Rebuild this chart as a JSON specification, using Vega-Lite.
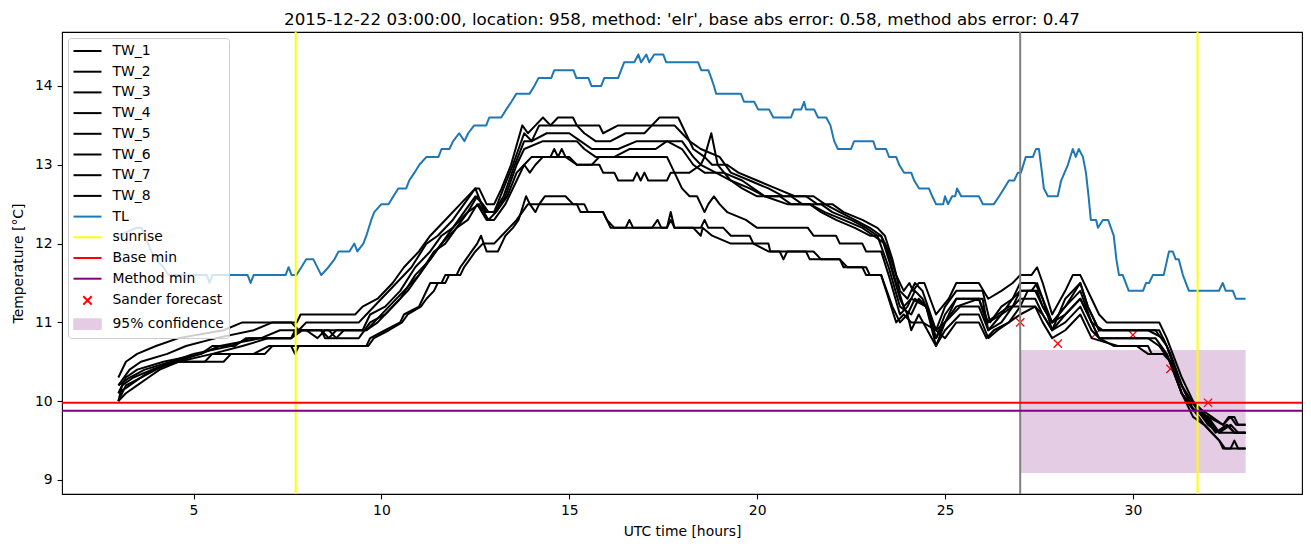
{
"$schema":"https://vega.github.io/schema/vega-lite/v6.json",
"width":1240,"height":462,
"autosize":{"type":"none"},
"padding":{"left":62,"top":32,"right":9,"bottom":53},
"background":"white",
"title":{"text":"2015-12-22 03:00:00, location: 958, method: 'elr', base abs error: 0.58, method abs error: 0.47","font":"DejaVu Sans","fontSize":16.7,"fontWeight":"normal","color":"black","anchor":"middle","frame":"group","baseline":"alphabetic","offset":8,"dy":19},
"config":{
 "view":{"stroke":"black","strokeWidth":1.1},
 "axis":{"labelFont":"DejaVu Sans","labelFontSize":13.9,"titleFont":"DejaVu Sans","titleFontSize":13.9,"titleFontWeight":"normal","labelColor":"black","titleColor":"black","tickColor":"black","tickSize":4.9,"tickWidth":1.1,"labelPadding":4.9,"domain":false,"grid":false}
},
"datasets":{
"lines":[
{"series":"TW_1","t":3.0,"v":10.3},{"series":"TW_1","t":3.2,"v":10.5},{"series":"TW_1","t":3.5,"v":10.6},{"series":"TW_1","t":4.0,"v":10.7},{"series":"TW_1","t":4.6,"v":10.8},{"series":"TW_1","t":5.8,"v":10.9},{"series":"TW_1","t":6.3,"v":11.0},{"series":"TW_1","t":7.75,"v":11.0},{"series":"TW_1","t":7.85,"v":11.1},{"series":"TW_1","t":9.3,"v":11.1},{"series":"TW_1","t":9.5,"v":11.2},{"series":"TW_1","t":9.9,"v":11.3},{"series":"TW_1","t":10.3,"v":11.5},{"series":"TW_1","t":10.6,"v":11.7},{"series":"TW_1","t":11.0,"v":11.9},{"series":"TW_1","t":11.3,"v":12.1},{"series":"TW_1","t":11.7,"v":12.3},{"series":"TW_1","t":12.1,"v":12.5},{"series":"TW_1","t":12.5,"v":12.7},{"series":"TW_1","t":12.6,"v":12.7},{"series":"TW_1","t":12.8,"v":12.5},{"series":"TW_1","t":13.0,"v":12.5},{"series":"TW_1","t":13.2,"v":12.7},{"series":"TW_1","t":13.45,"v":13.0},{"series":"TW_1","t":13.75,"v":13.5},{"series":"TW_1","t":13.9,"v":13.4},{"series":"TW_1","t":14.1,"v":13.5},{"series":"TW_1","t":14.3,"v":13.6},{"series":"TW_1","t":14.5,"v":13.5},{"series":"TW_1","t":14.7,"v":13.6},{"series":"TW_1","t":15.1,"v":13.6},{"series":"TW_1","t":15.2,"v":13.5},{"series":"TW_1","t":15.8,"v":13.5},{"series":"TW_1","t":15.9,"v":13.4},{"series":"TW_1","t":16.3,"v":13.5},{"series":"TW_1","t":17.2,"v":13.5},{"series":"TW_1","t":17.4,"v":13.6},{"series":"TW_1","t":17.9,"v":13.6},{"series":"TW_1","t":18.1,"v":13.4},{"series":"TW_1","t":18.3,"v":13.2},{"series":"TW_1","t":18.6,"v":13.1},{"series":"TW_1","t":18.8,"v":13.0},{"series":"TW_1","t":19.2,"v":13.0},{"series":"TW_1","t":19.5,"v":12.9},{"series":"TW_1","t":20.0,"v":12.8},{"series":"TW_1","t":20.5,"v":12.7},{"series":"TW_1","t":21.0,"v":12.6},{"series":"TW_1","t":21.5,"v":12.6},{"series":"TW_1","t":21.8,"v":12.5},{"series":"TW_1","t":22.2,"v":12.4},{"series":"TW_1","t":22.6,"v":12.3},{"series":"TW_1","t":23.0,"v":12.2},{"series":"TW_1","t":23.3,"v":12.1},{"series":"TW_1","t":23.5,"v":11.9},{"series":"TW_1","t":23.7,"v":11.6},{"series":"TW_1","t":23.9,"v":11.4},{"series":"TW_1","t":24.05,"v":11.5},{"series":"TW_1","t":24.15,"v":11.4},{"series":"TW_1","t":24.3,"v":11.5},{"series":"TW_1","t":24.45,"v":11.5},{"series":"TW_1","t":24.76,"v":11.1},{"series":"TW_1","t":25.1,"v":11.3},{"series":"TW_1","t":25.3,"v":11.5},{"series":"TW_1","t":25.9,"v":11.5},{"series":"TW_1","t":26.15,"v":11.3},{"series":"TW_1","t":26.5,"v":11.4},{"series":"TW_1","t":26.8,"v":11.5},{"series":"TW_1","t":27.0,"v":11.6},{"series":"TW_1","t":27.3,"v":11.6},{"series":"TW_1","t":27.45,"v":11.7},{"series":"TW_1","t":27.6,"v":11.5},{"series":"TW_1","t":27.85,"v":11.1},{"series":"TW_1","t":28.2,"v":11.4},{"series":"TW_1","t":28.4,"v":11.6},{"series":"TW_1","t":28.6,"v":11.6},{"series":"TW_1","t":28.9,"v":11.3},{"series":"TW_1","t":29.1,"v":11.1},{"series":"TW_1","t":29.3,"v":11.0},{"series":"TW_1","t":30.7,"v":11.0},{"series":"TW_1","t":30.9,"v":10.8},{"series":"TW_1","t":31.3,"v":10.3},{"series":"TW_1","t":31.6,"v":10.0},{"series":"TW_1","t":31.8,"v":9.9},{"series":"TW_1","t":32.1,"v":9.8},{"series":"TW_1","t":32.4,"v":9.7},{"series":"TW_1","t":32.55,"v":9.8},{"series":"TW_1","t":32.7,"v":9.8},{"series":"TW_1","t":32.8,"v":9.7},{"series":"TW_1","t":33.0,"v":9.7},
{"series":"TW_2","t":3.0,"v":10.2},{"series":"TW_2","t":3.3,"v":10.4},{"series":"TW_2","t":3.6,"v":10.5},{"series":"TW_2","t":4.3,"v":10.6},{"series":"TW_2","t":4.8,"v":10.7},{"series":"TW_2","t":5.6,"v":10.8},{"series":"TW_2","t":6.6,"v":10.9},{"series":"TW_2","t":7.1,"v":11.0},{"series":"TW_2","t":7.6,"v":11.0},{"series":"TW_2","t":7.8,"v":10.9},{"series":"TW_2","t":8.0,"v":11.0},{"series":"TW_2","t":9.4,"v":11.0},{"series":"TW_2","t":9.6,"v":11.1},{"series":"TW_2","t":10.0,"v":11.3},{"series":"TW_2","t":10.4,"v":11.5},{"series":"TW_2","t":10.8,"v":11.7},{"series":"TW_2","t":11.2,"v":12.0},{"series":"TW_2","t":11.5,"v":12.1},{"series":"TW_2","t":11.9,"v":12.3},{"series":"TW_2","t":12.2,"v":12.5},{"series":"TW_2","t":12.5,"v":12.7},{"series":"TW_2","t":12.75,"v":12.4},{"series":"TW_2","t":13.0,"v":12.4},{"series":"TW_2","t":13.25,"v":12.7},{"series":"TW_2","t":13.5,"v":13.0},{"series":"TW_2","t":13.8,"v":13.4},{"series":"TW_2","t":14.0,"v":13.3},{"series":"TW_2","t":14.2,"v":13.5},{"series":"TW_2","t":15.2,"v":13.5},{"series":"TW_2","t":15.4,"v":13.4},{"series":"TW_2","t":15.7,"v":13.3},{"series":"TW_2","t":16.1,"v":13.3},{"series":"TW_2","t":16.5,"v":13.4},{"series":"TW_2","t":17.0,"v":13.4},{"series":"TW_2","t":17.2,"v":13.5},{"series":"TW_2","t":17.8,"v":13.5},{"series":"TW_2","t":18.0,"v":13.4},{"series":"TW_2","t":18.2,"v":13.3},{"series":"TW_2","t":18.5,"v":13.2},{"series":"TW_2","t":19.0,"v":13.1},{"series":"TW_2","t":19.3,"v":12.9},{"series":"TW_2","t":19.8,"v":12.8},{"series":"TW_2","t":20.3,"v":12.7},{"series":"TW_2","t":20.7,"v":12.6},{"series":"TW_2","t":21.3,"v":12.6},{"series":"TW_2","t":21.6,"v":12.5},{"series":"TW_2","t":22.0,"v":12.5},{"series":"TW_2","t":22.3,"v":12.4},{"series":"TW_2","t":22.8,"v":12.3},{"series":"TW_2","t":23.2,"v":12.2},{"series":"TW_2","t":23.4,"v":12.1},{"series":"TW_2","t":23.6,"v":11.8},{"series":"TW_2","t":23.8,"v":11.4},{"series":"TW_2","t":24.0,"v":11.3},{"series":"TW_2","t":24.2,"v":11.5},{"series":"TW_2","t":24.4,"v":11.4},{"series":"TW_2","t":24.76,"v":10.9},{"series":"TW_2","t":25.0,"v":11.2},{"series":"TW_2","t":25.3,"v":11.4},{"series":"TW_2","t":26.0,"v":11.4},{"series":"TW_2","t":26.2,"v":11.0},{"series":"TW_2","t":26.5,"v":11.2},{"series":"TW_2","t":26.8,"v":11.3},{"series":"TW_2","t":27.0,"v":11.5},{"series":"TW_2","t":27.4,"v":11.5},{"series":"TW_2","t":27.6,"v":11.3},{"series":"TW_2","t":27.85,"v":10.9},{"series":"TW_2","t":28.2,"v":11.3},{"series":"TW_2","t":28.6,"v":11.5},{"series":"TW_2","t":28.8,"v":11.2},{"series":"TW_2","t":29.1,"v":10.9},{"series":"TW_2","t":29.4,"v":10.9},{"series":"TW_2","t":30.7,"v":10.9},{"series":"TW_2","t":30.9,"v":10.7},{"series":"TW_2","t":31.3,"v":10.2},{"series":"TW_2","t":31.6,"v":9.9},{"series":"TW_2","t":31.9,"v":9.8},{"series":"TW_2","t":32.2,"v":9.6},{"series":"TW_2","t":32.5,"v":9.7},{"series":"TW_2","t":32.7,"v":9.6},{"series":"TW_2","t":33.0,"v":9.6},
{"series":"TW_3","t":3.0,"v":10.1},{"series":"TW_3","t":3.2,"v":10.3},{"series":"TW_3","t":3.5,"v":10.4},{"series":"TW_3","t":4.2,"v":10.5},{"series":"TW_3","t":5.2,"v":10.6},{"series":"TW_3","t":5.7,"v":10.7},{"series":"TW_3","t":6.8,"v":10.8},{"series":"TW_3","t":7.3,"v":10.9},{"series":"TW_3","t":8.0,"v":10.9},{"series":"TW_3","t":8.3,"v":10.8},{"series":"TW_3","t":8.5,"v":10.9},{"series":"TW_3","t":9.5,"v":10.9},{"series":"TW_3","t":9.7,"v":11.1},{"series":"TW_3","t":10.1,"v":11.2},{"series":"TW_3","t":10.5,"v":11.4},{"series":"TW_3","t":10.9,"v":11.7},{"series":"TW_3","t":11.3,"v":11.9},{"series":"TW_3","t":11.6,"v":12.1},{"series":"TW_3","t":11.9,"v":12.2},{"series":"TW_3","t":12.2,"v":12.4},{"series":"TW_3","t":12.5,"v":12.6},{"series":"TW_3","t":12.7,"v":12.5},{"series":"TW_3","t":12.85,"v":12.4},{"series":"TW_3","t":13.0,"v":12.4},{"series":"TW_3","t":13.25,"v":12.6},{"series":"TW_3","t":13.55,"v":13.0},{"series":"TW_3","t":13.8,"v":13.3},{"series":"TW_3","t":14.0,"v":13.3},{"series":"TW_3","t":14.4,"v":13.4},{"series":"TW_3","t":15.0,"v":13.4},{"series":"TW_3","t":15.3,"v":13.3},{"series":"TW_3","t":15.6,"v":13.2},{"series":"TW_3","t":16.3,"v":13.2},{"series":"TW_3","t":16.8,"v":13.3},{"series":"TW_3","t":17.6,"v":13.3},{"series":"TW_3","t":18.0,"v":13.2},{"series":"TW_3","t":18.3,"v":13.0},{"series":"TW_3","t":18.6,"v":12.9},{"series":"TW_3","t":19.1,"v":12.9},{"series":"TW_3","t":19.6,"v":12.8},{"series":"TW_3","t":20.2,"v":12.6},{"series":"TW_3","t":20.8,"v":12.5},{"series":"TW_3","t":21.4,"v":12.5},{"series":"TW_3","t":21.8,"v":12.4},{"series":"TW_3","t":22.3,"v":12.3},{"series":"TW_3","t":22.8,"v":12.2},{"series":"TW_3","t":23.1,"v":12.1},{"series":"TW_3","t":23.4,"v":12.0},{"series":"TW_3","t":23.7,"v":11.5},{"series":"TW_3","t":23.9,"v":11.2},{"series":"TW_3","t":24.1,"v":11.3},{"series":"TW_3","t":24.5,"v":11.2},{"series":"TW_3","t":24.76,"v":10.8},{"series":"TW_3","t":25.0,"v":11.1},{"series":"TW_3","t":25.3,"v":11.3},{"series":"TW_3","t":26.0,"v":11.3},{"series":"TW_3","t":26.15,"v":10.9},{"series":"TW_3","t":26.5,"v":11.1},{"series":"TW_3","t":26.8,"v":11.2},{"series":"TW_3","t":27.0,"v":11.4},{"series":"TW_3","t":27.4,"v":11.4},{"series":"TW_3","t":27.6,"v":11.2},{"series":"TW_3","t":27.85,"v":11.0},{"series":"TW_3","t":28.2,"v":11.2},{"series":"TW_3","t":28.6,"v":11.4},{"series":"TW_3","t":28.9,"v":11.0},{"series":"TW_3","t":29.2,"v":10.9},{"series":"TW_3","t":30.4,"v":10.9},{"series":"TW_3","t":30.8,"v":10.8},{"series":"TW_3","t":31.0,"v":10.6},{"series":"TW_3","t":31.3,"v":10.2},{"series":"TW_3","t":31.7,"v":9.9},{"series":"TW_3","t":32.0,"v":9.7},{"series":"TW_3","t":32.3,"v":9.6},{"series":"TW_3","t":32.5,"v":9.7},{"series":"TW_3","t":32.7,"v":9.6},{"series":"TW_3","t":33.0,"v":9.6},
{"series":"TW_4","t":3.0,"v":10.0},{"series":"TW_4","t":3.2,"v":10.2},{"series":"TW_4","t":3.6,"v":10.3},{"series":"TW_4","t":3.9,"v":10.4},{"series":"TW_4","t":4.6,"v":10.5},{"series":"TW_4","t":5.5,"v":10.6},{"series":"TW_4","t":6.3,"v":10.7},{"series":"TW_4","t":7.0,"v":10.8},{"series":"TW_4","t":7.6,"v":10.8},{"series":"TW_4","t":7.9,"v":10.9},{"series":"TW_4","t":8.6,"v":10.9},{"series":"TW_4","t":8.8,"v":10.8},{"series":"TW_4","t":9.0,"v":10.9},{"series":"TW_4","t":9.6,"v":10.9},{"series":"TW_4","t":9.9,"v":11.0},{"series":"TW_4","t":10.3,"v":11.2},{"series":"TW_4","t":10.7,"v":11.4},{"series":"TW_4","t":11.0,"v":11.6},{"series":"TW_4","t":11.4,"v":11.9},{"series":"TW_4","t":11.7,"v":12.0},{"series":"TW_4","t":12.0,"v":12.2},{"series":"TW_4","t":12.3,"v":12.4},{"series":"TW_4","t":12.55,"v":12.6},{"series":"TW_4","t":12.8,"v":12.4},{"series":"TW_4","t":13.05,"v":12.4},{"series":"TW_4","t":13.3,"v":12.6},{"series":"TW_4","t":13.6,"v":13.0},{"series":"TW_4","t":13.8,"v":13.2},{"series":"TW_4","t":14.3,"v":13.3},{"series":"TW_4","t":15.2,"v":13.3},{"series":"TW_4","t":15.4,"v":13.2},{"series":"TW_4","t":15.7,"v":13.1},{"series":"TW_4","t":16.2,"v":13.1},{"series":"TW_4","t":16.6,"v":13.2},{"series":"TW_4","t":17.3,"v":13.2},{"series":"TW_4","t":17.6,"v":13.3},{"series":"TW_4","t":18.0,"v":13.3},{"series":"TW_4","t":18.3,"v":13.1},{"series":"TW_4","t":18.5,"v":13.0},{"series":"TW_4","t":18.9,"v":12.9},{"series":"TW_4","t":19.3,"v":12.8},{"series":"TW_4","t":19.8,"v":12.7},{"series":"TW_4","t":20.2,"v":12.6},{"series":"TW_4","t":20.9,"v":12.6},{"series":"TW_4","t":21.2,"v":12.5},{"series":"TW_4","t":21.7,"v":12.5},{"series":"TW_4","t":22.0,"v":12.4},{"series":"TW_4","t":22.5,"v":12.3},{"series":"TW_4","t":22.9,"v":12.2},{"series":"TW_4","t":23.2,"v":12.1},{"series":"TW_4","t":23.5,"v":11.7},{"series":"TW_4","t":23.8,"v":11.2},{"series":"TW_4","t":24.1,"v":11.1},{"series":"TW_4","t":24.3,"v":11.3},{"series":"TW_4","t":24.5,"v":11.2},{"series":"TW_4","t":24.76,"v":10.7},{"series":"TW_4","t":25.0,"v":11.0},{"series":"TW_4","t":25.4,"v":11.2},{"series":"TW_4","t":25.9,"v":11.2},{"series":"TW_4","t":26.15,"v":10.9},{"series":"TW_4","t":26.5,"v":11.0},{"series":"TW_4","t":26.8,"v":11.2},{"series":"TW_4","t":27.0,"v":11.3},{"series":"TW_4","t":27.4,"v":11.3},{"series":"TW_4","t":27.6,"v":11.1},{"series":"TW_4","t":27.85,"v":10.9},{"series":"TW_4","t":28.2,"v":11.1},{"series":"TW_4","t":28.6,"v":11.3},{"series":"TW_4","t":28.9,"v":11.0},{"series":"TW_4","t":29.1,"v":10.8},{"series":"TW_4","t":30.6,"v":10.8},{"series":"TW_4","t":30.9,"v":10.6},{"series":"TW_4","t":31.3,"v":10.1},{"series":"TW_4","t":31.6,"v":9.9},{"series":"TW_4","t":32.0,"v":9.8},{"series":"TW_4","t":32.3,"v":9.6},{"series":"TW_4","t":32.6,"v":9.7},{"series":"TW_4","t":32.8,"v":9.6},{"series":"TW_4","t":33.0,"v":9.6},
{"series":"TW_5","t":3.0,"v":10.2},{"series":"TW_5","t":3.3,"v":10.3},{"series":"TW_5","t":3.7,"v":10.4},{"series":"TW_5","t":4.4,"v":10.5},{"series":"TW_5","t":5.0,"v":10.6},{"series":"TW_5","t":6.0,"v":10.7},{"series":"TW_5","t":6.5,"v":10.8},{"series":"TW_5","t":7.6,"v":10.8},{"series":"TW_5","t":7.7,"v":10.9},{"series":"TW_5","t":8.4,"v":10.9},{"series":"TW_5","t":8.6,"v":10.8},{"series":"TW_5","t":8.8,"v":10.9},{"series":"TW_5","t":9.6,"v":10.9},{"series":"TW_5","t":9.8,"v":11.0},{"series":"TW_5","t":10.2,"v":11.2},{"series":"TW_5","t":10.6,"v":11.4},{"series":"TW_5","t":11.0,"v":11.6},{"series":"TW_5","t":11.3,"v":11.8},{"series":"TW_5","t":11.6,"v":12.0},{"series":"TW_5","t":11.9,"v":12.2},{"series":"TW_5","t":12.3,"v":12.4},{"series":"TW_5","t":12.6,"v":12.5},{"series":"TW_5","t":12.85,"v":12.3},{"series":"TW_5","t":13.05,"v":12.4},{"series":"TW_5","t":13.35,"v":12.6},{"series":"TW_5","t":13.6,"v":12.9},{"series":"TW_5","t":13.8,"v":13.0},{"series":"TW_5","t":14.0,"v":13.1},{"series":"TW_5","t":14.5,"v":13.1},{"series":"TW_5","t":14.6,"v":13.2},{"series":"TW_5","t":14.7,"v":13.1},{"series":"TW_5","t":14.8,"v":13.2},{"series":"TW_5","t":14.9,"v":13.1},{"series":"TW_5","t":15.2,"v":13.0},{"series":"TW_5","t":15.6,"v":13.0},{"series":"TW_5","t":15.8,"v":13.1},{"series":"TW_5","t":17.6,"v":13.1},{"series":"TW_5","t":17.8,"v":12.9},{"series":"TW_5","t":18.0,"v":12.7},{"series":"TW_5","t":18.2,"v":12.6},{"series":"TW_5","t":18.4,"v":12.6},{"series":"TW_5","t":18.6,"v":12.4},{"series":"TW_5","t":18.7,"v":12.5},{"series":"TW_5","t":18.85,"v":12.6},{"series":"TW_5","t":19.0,"v":12.5},{"series":"TW_5","t":19.2,"v":12.4},{"series":"TW_5","t":19.7,"v":12.3},{"series":"TW_5","t":20.0,"v":12.2},{"series":"TW_5","t":21.35,"v":12.2},{"series":"TW_5","t":21.5,"v":12.1},{"series":"TW_5","t":22.1,"v":12.1},{"series":"TW_5","t":22.2,"v":12.0},{"series":"TW_5","t":22.8,"v":12.0},{"series":"TW_5","t":22.9,"v":11.9},{"series":"TW_5","t":23.3,"v":11.9},{"series":"TW_5","t":23.5,"v":11.6},{"series":"TW_5","t":23.8,"v":11.1},{"series":"TW_5","t":24.0,"v":11.2},{"series":"TW_5","t":24.2,"v":11.4},{"series":"TW_5","t":24.4,"v":11.3},{"series":"TW_5","t":24.76,"v":10.9},{"series":"TW_5","t":25.0,"v":11.0},{"series":"TW_5","t":25.3,"v":11.2},{"series":"TW_5","t":25.9,"v":11.3},{"series":"TW_5","t":26.1,"v":11.0},{"series":"TW_5","t":26.4,"v":11.1},{"series":"TW_5","t":26.7,"v":11.2},{"series":"TW_5","t":27.0,"v":11.2},{"series":"TW_5","t":27.2,"v":11.4},{"series":"TW_5","t":27.45,"v":11.4},{"series":"TW_5","t":27.6,"v":11.2},{"series":"TW_5","t":27.85,"v":11.0},{"series":"TW_5","t":28.2,"v":11.1},{"series":"TW_5","t":28.6,"v":11.3},{"series":"TW_5","t":28.9,"v":11.0},{"series":"TW_5","t":29.1,"v":10.8},{"series":"TW_5","t":30.4,"v":10.8},{"series":"TW_5","t":30.7,"v":10.7},{"series":"TW_5","t":31.0,"v":10.5},{"series":"TW_5","t":31.3,"v":10.1},{"series":"TW_5","t":31.6,"v":9.9},{"series":"TW_5","t":32.0,"v":9.8},{"series":"TW_5","t":32.4,"v":9.7},{"series":"TW_5","t":32.6,"v":9.8},{"series":"TW_5","t":32.75,"v":9.7},{"series":"TW_5","t":33.0,"v":9.7},
{"series":"TW_6","t":3.0,"v":10.0},{"series":"TW_6","t":3.1,"v":10.2},{"series":"TW_6","t":3.4,"v":10.3},{"series":"TW_6","t":3.9,"v":10.4},{"series":"TW_6","t":4.5,"v":10.5},{"series":"TW_6","t":5.2,"v":10.6},{"series":"TW_6","t":5.5,"v":10.7},{"series":"TW_6","t":6.1,"v":10.7},{"series":"TW_6","t":6.4,"v":10.8},{"series":"TW_6","t":7.6,"v":10.8},{"series":"TW_6","t":7.8,"v":10.9},{"series":"TW_6","t":8.4,"v":10.9},{"series":"TW_6","t":8.5,"v":10.8},{"series":"TW_6","t":9.4,"v":10.8},{"series":"TW_6","t":9.7,"v":11.0},{"series":"TW_6","t":10.1,"v":11.1},{"series":"TW_6","t":10.5,"v":11.3},{"series":"TW_6","t":10.9,"v":11.6},{"series":"TW_6","t":11.3,"v":11.8},{"series":"TW_6","t":11.6,"v":12.0},{"series":"TW_6","t":12.0,"v":12.2},{"series":"TW_6","t":12.3,"v":12.3},{"series":"TW_6","t":12.55,"v":12.5},{"series":"TW_6","t":12.8,"v":12.3},{"series":"TW_6","t":13.0,"v":12.3},{"series":"TW_6","t":13.3,"v":12.5},{"series":"TW_6","t":13.6,"v":12.8},{"series":"TW_6","t":13.8,"v":13.0},{"series":"TW_6","t":13.95,"v":12.9},{"series":"TW_6","t":14.1,"v":13.0},{"series":"TW_6","t":14.3,"v":13.1},{"series":"TW_6","t":15.0,"v":13.1},{"series":"TW_6","t":15.2,"v":13.0},{"series":"TW_6","t":15.8,"v":13.0},{"series":"TW_6","t":15.9,"v":12.9},{"series":"TW_6","t":16.2,"v":12.9},{"series":"TW_6","t":16.3,"v":12.8},{"series":"TW_6","t":16.7,"v":12.8},{"series":"TW_6","t":16.8,"v":12.9},{"series":"TW_6","t":16.9,"v":12.8},{"series":"TW_6","t":17.0,"v":12.9},{"series":"TW_6","t":17.1,"v":12.8},{"series":"TW_6","t":17.6,"v":12.8},{"series":"TW_6","t":17.7,"v":12.9},{"series":"TW_6","t":18.2,"v":12.9},{"series":"TW_6","t":18.5,"v":13.0},{"series":"TW_6","t":18.6,"v":13.1},{"series":"TW_6","t":18.78,"v":13.4},{"series":"TW_6","t":18.95,"v":13.0},{"series":"TW_6","t":19.3,"v":12.8},{"series":"TW_6","t":19.6,"v":12.7},{"series":"TW_6","t":20.0,"v":12.6},{"series":"TW_6","t":20.6,"v":12.6},{"series":"TW_6","t":20.9,"v":12.5},{"series":"TW_6","t":21.4,"v":12.5},{"series":"TW_6","t":21.7,"v":12.4},{"series":"TW_6","t":22.1,"v":12.3},{"series":"TW_6","t":22.6,"v":12.2},{"series":"TW_6","t":23.0,"v":12.1},{"series":"TW_6","t":23.3,"v":12.1},{"series":"TW_6","t":23.5,"v":11.8},{"series":"TW_6","t":23.8,"v":11.3},{"series":"TW_6","t":24.0,"v":11.1},{"series":"TW_6","t":24.2,"v":11.3},{"series":"TW_6","t":24.5,"v":11.2},{"series":"TW_6","t":24.76,"v":10.8},{"series":"TW_6","t":25.0,"v":11.0},{"series":"TW_6","t":25.3,"v":11.3},{"series":"TW_6","t":25.9,"v":11.3},{"series":"TW_6","t":26.15,"v":11.0},{"series":"TW_6","t":26.5,"v":11.1},{"series":"TW_6","t":26.8,"v":11.3},{"series":"TW_6","t":27.0,"v":11.4},{"series":"TW_6","t":27.3,"v":11.4},{"series":"TW_6","t":27.45,"v":11.5},{"series":"TW_6","t":27.6,"v":11.3},{"series":"TW_6","t":27.85,"v":11.0},{"series":"TW_6","t":28.2,"v":11.2},{"series":"TW_6","t":28.6,"v":11.5},{"series":"TW_6","t":28.8,"v":11.2},{"series":"TW_6","t":29.1,"v":10.9},{"series":"TW_6","t":29.5,"v":10.9},{"series":"TW_6","t":30.6,"v":10.9},{"series":"TW_6","t":30.9,"v":10.7},{"series":"TW_6","t":31.2,"v":10.3},{"series":"TW_6","t":31.5,"v":10.0},{"series":"TW_6","t":31.8,"v":9.9},{"series":"TW_6","t":32.1,"v":9.7},{"series":"TW_6","t":32.3,"v":9.6},{"series":"TW_6","t":33.0,"v":9.6},
{"series":"TW_7","t":3.0,"v":10.1},{"series":"TW_7","t":3.3,"v":10.2},{"series":"TW_7","t":3.6,"v":10.3},{"series":"TW_7","t":4.0,"v":10.4},{"series":"TW_7","t":4.4,"v":10.5},{"series":"TW_7","t":5.3,"v":10.5},{"series":"TW_7","t":5.5,"v":10.6},{"series":"TW_7","t":6.6,"v":10.6},{"series":"TW_7","t":7.0,"v":10.7},{"series":"TW_7","t":7.6,"v":10.7},{"series":"TW_7","t":7.7,"v":10.6},{"series":"TW_7","t":7.8,"v":10.7},{"series":"TW_7","t":9.6,"v":10.7},{"series":"TW_7","t":9.7,"v":10.8},{"series":"TW_7","t":10.1,"v":10.9},{"series":"TW_7","t":10.5,"v":11.0},{"series":"TW_7","t":10.6,"v":11.1},{"series":"TW_7","t":11.0,"v":11.2},{"series":"TW_7","t":11.1,"v":11.3},{"series":"TW_7","t":11.3,"v":11.5},{"series":"TW_7","t":11.6,"v":11.5},{"series":"TW_7","t":11.7,"v":11.6},{"series":"TW_7","t":12.0,"v":11.6},{"series":"TW_7","t":12.1,"v":11.7},{"series":"TW_7","t":12.25,"v":11.8},{"series":"TW_7","t":12.4,"v":11.9},{"series":"TW_7","t":12.55,"v":12.0},{"series":"TW_7","t":12.65,"v":12.1},{"series":"TW_7","t":12.8,"v":11.9},{"series":"TW_7","t":13.1,"v":11.9},{"series":"TW_7","t":13.2,"v":12.0},{"series":"TW_7","t":13.3,"v":12.1},{"series":"TW_7","t":13.5,"v":12.2},{"series":"TW_7","t":13.65,"v":12.3},{"series":"TW_7","t":13.85,"v":12.6},{"series":"TW_7","t":13.95,"v":12.5},{"series":"TW_7","t":14.1,"v":12.4},{"series":"TW_7","t":14.2,"v":12.5},{"series":"TW_7","t":14.35,"v":12.6},{"series":"TW_7","t":14.9,"v":12.6},{"series":"TW_7","t":15.1,"v":12.5},{"series":"TW_7","t":15.4,"v":12.5},{"series":"TW_7","t":15.5,"v":12.4},{"series":"TW_7","t":15.9,"v":12.4},{"series":"TW_7","t":16.0,"v":12.3},{"series":"TW_7","t":16.1,"v":12.2},{"series":"TW_7","t":17.2,"v":12.2},{"series":"TW_7","t":17.35,"v":12.3},{"series":"TW_7","t":17.45,"v":12.2},{"series":"TW_7","t":17.6,"v":12.2},{"series":"TW_7","t":17.7,"v":12.4},{"series":"TW_7","t":17.8,"v":12.2},{"series":"TW_7","t":18.5,"v":12.2},{"series":"TW_7","t":18.6,"v":12.3},{"series":"TW_7","t":18.7,"v":12.2},{"series":"TW_7","t":19.1,"v":12.2},{"series":"TW_7","t":19.3,"v":12.1},{"series":"TW_7","t":19.8,"v":12.1},{"series":"TW_7","t":19.9,"v":12.0},{"series":"TW_7","t":20.3,"v":12.0},{"series":"TW_7","t":20.35,"v":11.9},{"series":"TW_7","t":20.6,"v":11.9},{"series":"TW_7","t":20.7,"v":11.8},{"series":"TW_7","t":20.8,"v":11.9},{"series":"TW_7","t":21.5,"v":11.9},{"series":"TW_7","t":21.7,"v":11.8},{"series":"TW_7","t":22.2,"v":11.8},{"series":"TW_7","t":22.4,"v":11.7},{"series":"TW_7","t":22.9,"v":11.7},{"series":"TW_7","t":23.0,"v":11.6},{"series":"TW_7","t":23.3,"v":11.6},{"series":"TW_7","t":23.6,"v":11.2},{"series":"TW_7","t":23.8,"v":11.0},{"series":"TW_7","t":24.0,"v":11.1},{"series":"TW_7","t":24.1,"v":10.9},{"series":"TW_7","t":24.3,"v":11.1},{"series":"TW_7","t":24.76,"v":10.7},{"series":"TW_7","t":25.0,"v":10.9},{"series":"TW_7","t":25.4,"v":11.1},{"series":"TW_7","t":25.9,"v":11.1},{"series":"TW_7","t":26.15,"v":10.8},{"series":"TW_7","t":26.4,"v":10.9},{"series":"TW_7","t":26.7,"v":11.0},{"series":"TW_7","t":27.0,"v":11.2},{"series":"TW_7","t":27.4,"v":11.2},{"series":"TW_7","t":27.6,"v":11.1},{"series":"TW_7","t":27.85,"v":10.9},{"series":"TW_7","t":28.2,"v":11.0},{"series":"TW_7","t":28.6,"v":11.2},{"series":"TW_7","t":28.9,"v":10.9},{"series":"TW_7","t":29.1,"v":10.8},{"series":"TW_7","t":29.5,"v":10.7},{"series":"TW_7","t":30.4,"v":10.7},{"series":"TW_7","t":30.5,"v":10.6},{"series":"TW_7","t":30.9,"v":10.6},{"series":"TW_7","t":31.3,"v":10.1},{"series":"TW_7","t":31.6,"v":9.9},{"series":"TW_7","t":31.9,"v":9.7},{"series":"TW_7","t":32.1,"v":9.6},{"series":"TW_7","t":32.3,"v":9.5},{"series":"TW_7","t":32.4,"v":9.4},{"series":"TW_7","t":32.6,"v":9.4},{"series":"TW_7","t":32.7,"v":9.5},{"series":"TW_7","t":32.8,"v":9.4},{"series":"TW_7","t":33.0,"v":9.4},
{"series":"TW_8","t":3.0,"v":10.0},{"series":"TW_8","t":3.2,"v":10.1},{"series":"TW_8","t":3.5,"v":10.2},{"series":"TW_8","t":3.8,"v":10.3},{"series":"TW_8","t":4.1,"v":10.4},{"series":"TW_8","t":4.6,"v":10.5},{"series":"TW_8","t":5.8,"v":10.5},{"series":"TW_8","t":6.0,"v":10.6},{"series":"TW_8","t":6.9,"v":10.6},{"series":"TW_8","t":7.1,"v":10.7},{"series":"TW_8","t":9.65,"v":10.7},{"series":"TW_8","t":9.8,"v":10.8},{"series":"TW_8","t":10.2,"v":10.9},{"series":"TW_8","t":10.55,"v":11.0},{"series":"TW_8","t":10.7,"v":11.1},{"series":"TW_8","t":11.05,"v":11.2},{"series":"TW_8","t":11.2,"v":11.3},{"series":"TW_8","t":11.4,"v":11.4},{"series":"TW_8","t":11.5,"v":11.5},{"series":"TW_8","t":11.7,"v":11.5},{"series":"TW_8","t":11.8,"v":11.6},{"series":"TW_8","t":12.1,"v":11.6},{"series":"TW_8","t":12.2,"v":11.7},{"series":"TW_8","t":12.35,"v":11.8},{"series":"TW_8","t":12.5,"v":11.9},{"series":"TW_8","t":12.7,"v":12.0},{"series":"TW_8","t":13.0,"v":12.0},{"series":"TW_8","t":13.2,"v":12.1},{"series":"TW_8","t":13.4,"v":12.2},{"series":"TW_8","t":13.6,"v":12.3},{"series":"TW_8","t":13.75,"v":12.4},{"series":"TW_8","t":13.9,"v":12.5},{"series":"TW_8","t":15.2,"v":12.5},{"series":"TW_8","t":15.3,"v":12.4},{"series":"TW_8","t":15.9,"v":12.4},{"series":"TW_8","t":16.0,"v":12.3},{"series":"TW_8","t":16.2,"v":12.2},{"series":"TW_8","t":16.5,"v":12.2},{"series":"TW_8","t":16.6,"v":12.3},{"series":"TW_8","t":16.7,"v":12.2},{"series":"TW_8","t":17.6,"v":12.2},{"series":"TW_8","t":17.7,"v":12.3},{"series":"TW_8","t":17.8,"v":12.2},{"series":"TW_8","t":18.3,"v":12.2},{"series":"TW_8","t":18.5,"v":12.1},{"series":"TW_8","t":18.55,"v":12.2},{"series":"TW_8","t":18.8,"v":12.1},{"series":"TW_8","t":19.3,"v":12.0},{"series":"TW_8","t":19.9,"v":12.0},{"series":"TW_8","t":20.3,"v":11.9},{"series":"TW_8","t":21.3,"v":11.9},{"series":"TW_8","t":21.4,"v":11.8},{"series":"TW_8","t":22.2,"v":11.8},{"series":"TW_8","t":22.3,"v":11.7},{"series":"TW_8","t":22.8,"v":11.7},{"series":"TW_8","t":22.9,"v":11.6},{"series":"TW_8","t":23.3,"v":11.6},{"series":"TW_8","t":23.5,"v":11.3},{"series":"TW_8","t":23.7,"v":11.0},{"series":"TW_8","t":23.9,"v":11.1},{"series":"TW_8","t":24.1,"v":11.0},{"series":"TW_8","t":24.4,"v":11.0},{"series":"TW_8","t":24.76,"v":10.9},{"series":"TW_8","t":25.0,"v":10.8},{"series":"TW_8","t":25.3,"v":11.0},{"series":"TW_8","t":25.9,"v":11.0},{"series":"TW_8","t":26.1,"v":10.8},{"series":"TW_8","t":26.3,"v":10.9},{"series":"TW_8","t":26.7,"v":11.0},{"series":"TW_8","t":27.0,"v":11.1},{"series":"TW_8","t":27.4,"v":11.2},{"series":"TW_8","t":27.6,"v":11.0},{"series":"TW_8","t":27.85,"v":10.8},{"series":"TW_8","t":28.2,"v":10.9},{"series":"TW_8","t":28.6,"v":11.1},{"series":"TW_8","t":28.9,"v":10.8},{"series":"TW_8","t":29.6,"v":10.7},{"series":"TW_8","t":30.1,"v":10.7},{"series":"TW_8","t":30.4,"v":10.6},{"series":"TW_8","t":30.8,"v":10.6},{"series":"TW_8","t":31.0,"v":10.5},{"series":"TW_8","t":31.3,"v":10.1},{"series":"TW_8","t":31.6,"v":9.8},{"series":"TW_8","t":31.9,"v":9.7},{"series":"TW_8","t":32.1,"v":9.6},{"series":"TW_8","t":32.3,"v":9.5},{"series":"TW_8","t":32.45,"v":9.4},{"series":"TW_8","t":33.0,"v":9.4},
{"series":"TL","t":3.0,"v":12.1},{"series":"TL","t":3.48,"v":12.2},{"series":"TL","t":3.62,"v":12.2},{"series":"TL","t":3.88,"v":11.9},{"series":"TL","t":4.0,"v":11.8},{"series":"TL","t":4.2,"v":11.7},{"series":"TL","t":4.33,"v":11.6},{"series":"TL","t":5.35,"v":11.6},{"series":"TL","t":5.43,"v":11.5},{"series":"TL","t":5.5,"v":11.6},{"series":"TL","t":6.44,"v":11.6},{"series":"TL","t":6.52,"v":11.5},{"series":"TL","t":6.6,"v":11.6},{"series":"TL","t":7.45,"v":11.6},{"series":"TL","t":7.53,"v":11.7},{"series":"TL","t":7.61,"v":11.6},{"series":"TL","t":7.74,"v":11.6},{"series":"TL","t":7.87,"v":11.7},{"series":"TL","t":8.0,"v":11.8},{"series":"TL","t":8.19,"v":11.8},{"series":"TL","t":8.4,"v":11.6},{"series":"TL","t":8.59,"v":11.7},{"series":"TL","t":8.75,"v":11.8},{"series":"TL","t":8.86,"v":11.9},{"series":"TL","t":9.15,"v":11.9},{"series":"TL","t":9.28,"v":12.0},{"series":"TL","t":9.36,"v":11.9},{"series":"TL","t":9.52,"v":12.0},{"series":"TL","t":9.6,"v":12.1},{"series":"TL","t":9.73,"v":12.3},{"series":"TL","t":9.81,"v":12.4},{"series":"TL","t":10.0,"v":12.5},{"series":"TL","t":10.19,"v":12.5},{"series":"TL","t":10.32,"v":12.6},{"series":"TL","t":10.45,"v":12.7},{"series":"TL","t":10.66,"v":12.7},{"series":"TL","t":10.74,"v":12.8},{"series":"TL","t":10.88,"v":12.9},{"series":"TL","t":11.01,"v":13.0},{"series":"TL","t":11.2,"v":13.1},{"series":"TL","t":11.52,"v":13.1},{"series":"TL","t":11.6,"v":13.2},{"series":"TL","t":11.81,"v":13.2},{"series":"TL","t":11.91,"v":13.3},{"series":"TL","t":12.07,"v":13.4},{"series":"TL","t":12.21,"v":13.3},{"series":"TL","t":12.31,"v":13.4},{"series":"TL","t":12.47,"v":13.5},{"series":"TL","t":12.79,"v":13.5},{"series":"TL","t":12.87,"v":13.6},{"series":"TL","t":13.19,"v":13.6},{"series":"TL","t":13.32,"v":13.7},{"series":"TL","t":13.46,"v":13.8},{"series":"TL","t":13.59,"v":13.9},{"series":"TL","t":13.94,"v":13.9},{"series":"TL","t":14.07,"v":14.0},{"series":"TL","t":14.18,"v":14.1},{"series":"TL","t":14.52,"v":14.1},{"series":"TL","t":14.6,"v":14.2},{"series":"TL","t":15.11,"v":14.2},{"series":"TL","t":15.19,"v":14.1},{"series":"TL","t":15.51,"v":14.1},{"series":"TL","t":15.59,"v":14.0},{"series":"TL","t":15.85,"v":14.0},{"series":"TL","t":15.93,"v":14.1},{"series":"TL","t":16.3,"v":14.1},{"series":"TL","t":16.38,"v":14.2},{"series":"TL","t":16.46,"v":14.3},{"series":"TL","t":16.73,"v":14.3},{"series":"TL","t":16.84,"v":14.4},{"series":"TL","t":16.91,"v":14.3},{"series":"TL","t":17.05,"v":14.4},{"series":"TL","t":17.13,"v":14.3},{"series":"TL","t":17.26,"v":14.4},{"series":"TL","t":17.5,"v":14.4},{"series":"TL","t":17.58,"v":14.3},{"series":"TL","t":18.43,"v":14.3},{"series":"TL","t":18.51,"v":14.2},{"series":"TL","t":18.7,"v":14.2},{"series":"TL","t":18.78,"v":14.1},{"series":"TL","t":18.85,"v":14.0},{"series":"TL","t":18.91,"v":13.9},{"series":"TL","t":19.57,"v":13.9},{"series":"TL","t":19.65,"v":13.8},{"series":"TL","t":19.92,"v":13.8},{"series":"TL","t":20.03,"v":13.7},{"series":"TL","t":20.32,"v":13.7},{"series":"TL","t":20.43,"v":13.6},{"series":"TL","t":20.9,"v":13.6},{"series":"TL","t":20.98,"v":13.7},{"series":"TL","t":21.17,"v":13.7},{"series":"TL","t":21.25,"v":13.8},{"series":"TL","t":21.3,"v":13.7},{"series":"TL","t":21.52,"v":13.7},{"series":"TL","t":21.62,"v":13.6},{"series":"TL","t":21.84,"v":13.6},{"series":"TL","t":21.95,"v":13.5},{"series":"TL","t":22.05,"v":13.3},{"series":"TL","t":22.15,"v":13.2},{"series":"TL","t":22.5,"v":13.2},{"series":"TL","t":22.58,"v":13.3},{"series":"TL","t":23.09,"v":13.3},{"series":"TL","t":23.16,"v":13.2},{"series":"TL","t":23.43,"v":13.2},{"series":"TL","t":23.51,"v":13.1},{"series":"TL","t":23.7,"v":13.1},{"series":"TL","t":23.78,"v":13.0},{"series":"TL","t":23.91,"v":12.9},{"series":"TL","t":24.1,"v":12.9},{"series":"TL","t":24.18,"v":12.8},{"series":"TL","t":24.31,"v":12.7},{"series":"TL","t":24.57,"v":12.7},{"series":"TL","t":24.66,"v":12.6},{"series":"TL","t":24.76,"v":12.5},{"series":"TL","t":24.95,"v":12.5},{"series":"TL","t":25.0,"v":12.6},{"series":"TL","t":25.08,"v":12.5},{"series":"TL","t":25.19,"v":12.6},{"series":"TL","t":25.27,"v":12.6},{"series":"TL","t":25.32,"v":12.7},{"series":"TL","t":25.43,"v":12.6},{"series":"TL","t":25.9,"v":12.6},{"series":"TL","t":26.01,"v":12.5},{"series":"TL","t":26.3,"v":12.5},{"series":"TL","t":26.44,"v":12.6},{"series":"TL","t":26.57,"v":12.7},{"series":"TL","t":26.7,"v":12.8},{"series":"TL","t":26.84,"v":12.8},{"series":"TL","t":26.94,"v":12.9},{"series":"TL","t":27.02,"v":12.9},{"series":"TL","t":27.15,"v":13.1},{"series":"TL","t":27.34,"v":13.1},{"series":"TL","t":27.42,"v":13.2},{"series":"TL","t":27.5,"v":13.2},{"series":"TL","t":27.58,"v":12.9},{"series":"TL","t":27.63,"v":12.7},{"series":"TL","t":27.74,"v":12.6},{"series":"TL","t":28.0,"v":12.6},{"series":"TL","t":28.09,"v":12.8},{"series":"TL","t":28.27,"v":13.0},{"series":"TL","t":28.4,"v":13.2},{"series":"TL","t":28.48,"v":13.1},{"series":"TL","t":28.56,"v":13.2},{"series":"TL","t":28.67,"v":13.1},{"series":"TL","t":28.75,"v":12.9},{"series":"TL","t":28.82,"v":12.6},{"series":"TL","t":28.88,"v":12.3},{"series":"TL","t":29.02,"v":12.3},{"series":"TL","t":29.07,"v":12.2},{"series":"TL","t":29.2,"v":12.3},{"series":"TL","t":29.34,"v":12.3},{"series":"TL","t":29.49,"v":12.1},{"series":"TL","t":29.56,"v":11.8},{"series":"TL","t":29.63,"v":11.6},{"series":"TL","t":29.73,"v":11.6},{"series":"TL","t":29.89,"v":11.4},{"series":"TL","t":30.27,"v":11.4},{"series":"TL","t":30.35,"v":11.5},{"series":"TL","t":30.43,"v":11.5},{"series":"TL","t":30.53,"v":11.6},{"series":"TL","t":30.82,"v":11.6},{"series":"TL","t":30.96,"v":11.9},{"series":"TL","t":31.06,"v":11.9},{"series":"TL","t":31.14,"v":11.8},{"series":"TL","t":31.22,"v":11.8},{"series":"TL","t":31.33,"v":11.6},{"series":"TL","t":31.49,"v":11.4},{"series":"TL","t":32.29,"v":11.4},{"series":"TL","t":32.39,"v":11.5},{"series":"TL","t":32.47,"v":11.4},{"series":"TL","t":32.66,"v":11.4},{"series":"TL","t":32.74,"v":11.3},{"series":"TL","t":33.0,"v":11.3}
],
"vlines":[{"series":"sunrise","t":7.72},{"series":"sunrise","t":31.72}],
"gray":[{"t":27.0}],
"hlines":[{"series":"Base min","v":9.98},{"series":"Method min","v":9.88}],
"sander":[{"series":"Sander forecast","t":27,"v":11.0},{"series":"Sander forecast","t":28,"v":10.73},{"series":"Sander forecast","t":29,"v":10.85},{"series":"Sander forecast","t":30,"v":10.84},{"series":"Sander forecast","t":31,"v":10.41},{"series":"Sander forecast","t":32,"v":9.98}],
"conf":[{"series":"95% confidence","t0":27.0,"t1":33.0,"lo":9.09,"hi":10.65}]
},
"layer":[
{"data":{"name":"conf"},"mark":{"type":"rect"},
 "encoding":{
  "x":{"field":"t0","type":"quantitative","scale":{"domain":[1.5,34.5],"nice":false,"zero":false},"axis":{"values":[5,10,15,20,25,30],"format":"d","title":"UTC time [hours]","titlePadding":7}},
  "x2":{"field":"t1"},
  "y":{"field":"lo","type":"quantitative","scale":{"domain":[8.822,14.685],"nice":false,"zero":false},"axis":{"values":[9,10,11,12,13,14],"format":"d","title":"Temperature [°C]","titlePadding":9}},
  "y2":{"field":"hi"},
  "color":{"field":"series","type":"nominal",
   "scale":{"domain":["TW_1","TW_2","TW_3","TW_4","TW_5","TW_6","TW_7","TW_8","TL","sunrise","Base min","Method min","Sander forecast","95% confidence"],"range":["#000000","#000000","#000000","#000000","#000000","#000000","#000000","#000000","#1f77b4","#ffff00","#ff0000","#800080","#ff0000","#e3cce4"]},
   "legend":{"title":null,"orient":"none","legendX":6,"legendY":6,"padding":5,"rowPadding":5.7,"symbolOffset":6.5,"labelOffset":17,"symbolSize":196,"symbolStrokeWidth":2,
    "symbolType":{"expr":"datum.value === 'Sander forecast' ? 'M-0.6,-0.6L0.6,0.6M0.6,-0.6L-0.6,0.6' : (datum.value === '95% confidence' ? 'M-1.9,-0.7H1.9V0.7H-1.9Z' : 'M-2,0H2')"},
    "symbolStrokeColor":{"expr":"scale('color', datum.value)"},
    "symbolFillColor":{"expr":"datum.value === '95% confidence' ? '#e3cce4' : 'transparent'"},
    "fillColor":"rgba(255,255,255,0.8)","strokeColor":"#cccccc","cornerRadius":3,
    "labelFont":"DejaVu Sans","labelFontSize":13.9,"labelColor":"black","labelLimit":400}
  }
 }},
{"data":{"name":"sander"},"mark":{"type":"point","shape":"M-1,-1L1,1M1,-1L-1,1","size":69,"filled":false,"strokeWidth":1.3,"opacity":1},
 "encoding":{"x":{"field":"t","type":"quantitative"},"y":{"field":"v","type":"quantitative"},"color":{"field":"series","type":"nominal"}}},
{"data":{"name":"lines"},"mark":{"type":"line","strokeWidth":2,"strokeJoin":"round"},
 "encoding":{"x":{"field":"t","type":"quantitative"},"y":{"field":"v","type":"quantitative"},"color":{"field":"series","type":"nominal"}}},
{"data":{"name":"gray"},"mark":{"type":"rule","strokeWidth":2,"color":"#808080"},
 "encoding":{"x":{"field":"t","type":"quantitative"}}},
{"data":{"name":"vlines"},"mark":{"type":"rule","strokeWidth":2},
 "encoding":{"x":{"field":"t","type":"quantitative"},"color":{"field":"series","type":"nominal"}}},
{"data":{"name":"hlines"},"mark":{"type":"rule","strokeWidth":2},
 "encoding":{"y":{"field":"v","type":"quantitative"},"color":{"field":"series","type":"nominal"}}}
]
}
